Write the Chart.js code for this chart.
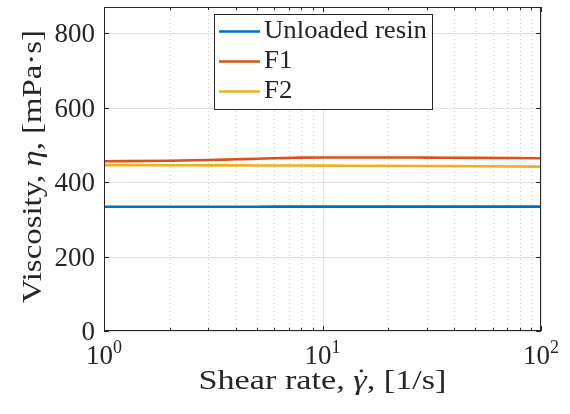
<!DOCTYPE html>
<html><head><meta charset="utf-8">
<script src="https://cdn.jsdelivr.net/npm/chart.js@4"></script>
<style>html,body{margin:0;padding:0;background:#fff}#wrap{width:570px;height:414px}</style>
</head><body><div id="wrap"><canvas id="c" width="570" height="414"></canvas></div>
<script>
// ---- data ----
const shearRate     = [1, 2, 3, 4, 5, 6, 8, 10, 20, 30, 50, 100];
const unloadedResin = [333.8, 333.6, 333.6, 333.7, 333.8, 333.9, 334, 334, 334, 334, 334, 334];
const f1            = [456, 457, 459, 461, 462.5, 464, 465.5, 466, 466, 465.5, 465, 464];
const f2            = [445.5, 445, 444.8, 444.6, 444.5, 444.4, 444.2, 444, 443.5, 443, 442.3, 441.5];
const seriesLabels  = ['Unloaded resin', 'F1', 'F2'];
const yTicks        = [0, 200, 400, 600, 800];
const xTicks        = [1, 10, 100];
const xTickExps     = ['0', '1', '2'];
const xTitle        = [['Shear rate, ', false], ['\u03B3', true, true], [', [1/s]', false]];
const yTitle        = [['Viscosity, ', false], ['\u03B7', true], [', [mPa\u00B7s]', false]];

const colors = ['#0072BD', '#D95319', '#EDB120'];
const seriesData = [unloadedResin, f1, f2];
const FONT = '"Liberation Serif", "Times New Roman", serif';
const AX = '#262626';

function minorX() {
  const out = [];
  for (let d = 1; d < 100; d *= 10) for (let k = 2; k <= 9; k++) out.push(d * k);
  return out;
}

function drawRich(ctx, parts, size) {
  let x = 0;
  for (const p of parts) {
    ctx.font = (p[1] ? 'italic ' : '') + size + 'px ' + FONT;
    const w = ctx.measureText(p[0]).width;
    ctx.fillText(p[0], x, 0);
    if (p[2]) {
      ctx.beginPath();
      ctx.arc(x + w * 0.6, -size * 0.64, size * 0.05, 0, Math.PI * 2);
      ctx.fill();
    }
    x += w;
  }
  return x;
}
function richWidth(ctx, parts, size) {
  let x = 0;
  for (const p of parts) {
    ctx.font = (p[1] ? 'italic ' : '') + size + 'px ' + FONT;
    x += ctx.measureText(p[0]).width;
  }
  return x;
}

const axesPlugin = {
  id: 'matlabAxes',
  beforeDatasetsDraw(chart) {
    const ctx = chart.ctx, a = chart.chartArea;
    const xs = chart.scales.x, ys = chart.scales.y;
    ctx.save();
    ctx.strokeStyle = 'rgba(38,38,38,0.22)';
    ctx.lineWidth = 1;
    ctx.setLineDash([1, 3]);
    for (const v of minorX()) {
      const px = Math.round(xs.getPixelForValue(v)) + 0.5;
      ctx.beginPath(); ctx.moveTo(px, a.top); ctx.lineTo(px, a.bottom); ctx.stroke();
    }
    ctx.setLineDash([]);
    ctx.strokeStyle = '#e3e3e3';
    for (const v of xTicks) {
      const px = Math.round(xs.getPixelForValue(v)) + 0.5;
      ctx.beginPath(); ctx.moveTo(px, a.top); ctx.lineTo(px, a.bottom); ctx.stroke();
    }
    for (const v of yTicks) {
      const py = Math.round(ys.getPixelForValue(v)) + 0.5;
      ctx.beginPath(); ctx.moveTo(a.left, py); ctx.lineTo(a.right, py); ctx.stroke();
    }
    ctx.restore();
  },
  afterDatasetsDraw(chart) {
    const ctx = chart.ctx, a = chart.chartArea;
    const xs = chart.scales.x, ys = chart.scales.y;
    ctx.save();
    ctx.strokeStyle = AX; ctx.lineWidth = 1;
    ctx.strokeRect(a.left + 0.5, a.top + 0.5, a.right - a.left - 1, a.bottom - a.top - 1);
    for (const v of yTicks) {
      const py = Math.round(ys.getPixelForValue(v)) + 0.5;
      ctx.beginPath();
      ctx.moveTo(a.left, py); ctx.lineTo(a.left + 5, py);
      ctx.moveTo(a.right, py); ctx.lineTo(a.right - 5, py);
      ctx.stroke();
    }
    const tk = (v, len) => {
      const px = Math.round(xs.getPixelForValue(v)) + 0.5;
      ctx.beginPath();
      ctx.moveTo(px, a.bottom); ctx.lineTo(px, a.bottom - len);
      ctx.moveTo(px, a.top); ctx.lineTo(px, a.top + len);
      ctx.stroke();
    };
    xTicks.forEach(v => tk(v, 5));
    minorX().forEach(v => tk(v, 3));

    // y tick labels
    ctx.fillStyle = AX;
    ctx.font = '27px ' + FONT;
    ctx.textAlign = 'right'; ctx.textBaseline = 'alphabetic';
    for (const v of yTicks) {
      const py = ys.getPixelForValue(v);
      ctx.fillText(String(v), a.left - 9, py + 9);
    }
    // x tick labels 10^n
    ctx.textAlign = 'left';
    xTicks.forEach((v, i) => {
      const px = xs.getPixelForValue(v);
      ctx.font = '27px ' + FONT;
      const wb = ctx.measureText('10').width;
      ctx.font = '18px ' + FONT;
      const we = ctx.measureText(xTickExps[i]).width;
      const x0 = px - (wb + we) / 2;
      ctx.font = '27px ' + FONT;
      ctx.fillText('10', x0, 364);
      ctx.font = '18px ' + FONT;
      ctx.fillText(xTickExps[i], x0 + wb, 353);
    });

    const TS = 27.5;
    // x title (stretched horizontally to mimic the wider LaTeX font)
    {
      const w = richWidth(ctx, xTitle, TS);
      const sx = 248 / w;
      ctx.save();
      ctx.translate(322.5 - 124, 388.5);
      ctx.scale(sx, 1);
      drawRich(ctx, xTitle, TS);
      ctx.restore();
    }
    // y title
    {
      const w = richWidth(ctx, yTitle, TS);
      const sx = 273 / w;
      ctx.save();
      ctx.translate(41, 166.5);
      ctx.rotate(-Math.PI / 2);
      ctx.translate(-136.5, 0);
      ctx.scale(sx, 1);
      drawRich(ctx, yTitle, TS);
      ctx.restore();
    }

    // legend
    const L = 214.5, T = 14.5, R = 432.5, B = 109.5;
    ctx.fillStyle = '#fff';
    ctx.fillRect(L, T, R - L, B - T);
    ctx.strokeStyle = AX; ctx.lineWidth = 1;
    ctx.strokeRect(L, T, R - L, B - T);
    const rows = [31.5, 61.5, 91.5];
    ctx.font = '25px ' + FONT;
    const lsx = 163 / ctx.measureText(chart.data.datasets[0].label).width;
    chart.data.datasets.forEach((ds, i) => {
      ctx.strokeStyle = ds.borderColor; ctx.lineWidth = 2.5;
      ctx.beginPath(); ctx.moveTo(219, rows[i]); ctx.lineTo(260, rows[i]); ctx.stroke();
      ctx.fillStyle = AX;
      ctx.font = '25px ' + FONT;
      ctx.textAlign = 'left';
      ctx.save();
      ctx.translate(264, rows[i] + 6);
      ctx.scale(lsx, 1);
      ctx.fillText(ds.label, 0, 0);
      ctx.restore();
    });
    ctx.restore();
  }
};

new Chart(document.getElementById('c').getContext('2d'), {
  type: 'line',
  data: {
    datasets: seriesLabels.map((lab, i) => ({
      label: lab,
      data: shearRate.map((x, j) => ({ x: x, y: seriesData[i][j] })),
      borderColor: colors[i],
      backgroundColor: colors[i],
      borderWidth: 2.6,
      pointRadius: 0,
      fill: false,
      cubicInterpolationMode: 'monotone'
    }))
  },
  options: {
    responsive: false,
    animation: false,
    devicePixelRatio: 1,
    layout: { padding: { left: 104, right: 29, top: 7, bottom: 83 } },
    plugins: { legend: { display: false }, tooltip: { enabled: false } },
    scales: {
      x: { type: 'logarithmic', min: 1, max: 100, display: false },
      y: { type: 'linear', min: 0, max: 870, display: false }
    }
  },
  plugins: [axesPlugin]
});
</script>
</body></html>
